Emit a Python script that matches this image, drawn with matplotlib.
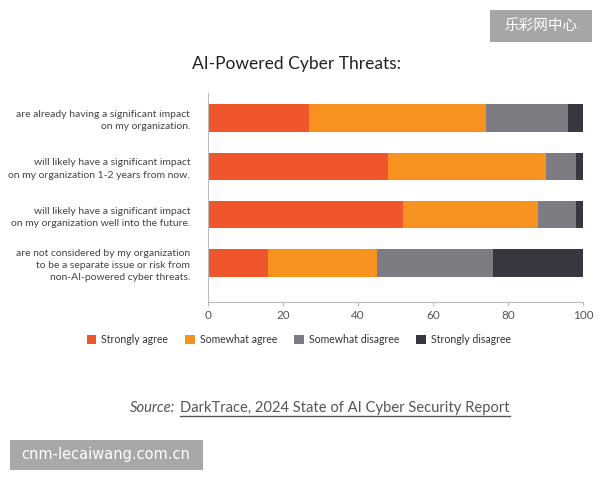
import matplotlib.pyplot as plt
from matplotlib.patches import Rectangle
from matplotlib.lines import Line2D

plt.rcParams['font.family'] = ['Lato', 'DejaVu Sans']

# data (percent of respondents)
statements = [
    'are already having a significant impact\non my organization.',
    'will likely have a significant impact\non my organization 1-2 years from now.',
    'will likely have a significant impact\non my organization well into the future.',
    'are not considered by my organization\nto be a separate issue or risk from\nnon-AI-powered cyber threats.',
]
answers = ['Strongly agree', 'Somewhat agree', 'Somewhat disagree', 'Strongly disagree']
strongly_agree = [27, 48, 52, 16]
somewhat_agree = [47, 42, 36, 29]
somewhat_disagree = [22, 8, 10, 31]
strongly_disagree = [4, 2, 2, 24]
colors = ['#F0562B', '#F7911F', '#7E7C82', '#38363E']

fig = plt.figure(figsize=(6, 4.8), dpi=100)
ax = fig.add_axes([0.347, 0.371, 0.625, 0.435])

series = [strongly_agree, somewhat_agree, somewhat_disagree, strongly_disagree]
ypos = list(range(len(statements)))
left = [0] * len(statements)
for vals, col, name in zip(series, colors, answers):
    ax.barh(ypos, vals, left=left, height=0.57, color=col, label=name)
    left = [a + b for a, b in zip(left, vals)]

ax.set_xlim(0, 100)
ax.set_ylim(3.81, -0.52)
ax.set_xticks([0, 20, 40, 60, 80, 100])
ax.set_yticks(ypos)
ax.set_yticklabels(statements, fontsize=7.5, color='#444444', linespacing=1.45)
ax.tick_params(axis='y', length=0, pad=13)
ax.tick_params(axis='x', length=3, color='#bbbbbb', labelsize=8.5, labelcolor='#555555', pad=3)
for s in ['top', 'right']:
    ax.spines[s].set_visible(False)
for s in ['left', 'bottom']:
    ax.spines[s].set_color('#bbbbbb')
    ax.spines[s].set_linewidth(0.8)

# legend
handles, labels = ax.get_legend_handles_labels()
fig.legend(handles, labels, loc='center', bbox_to_anchor=(0.498, 0.293), ncol=4,
           frameon=False, fontsize=7.6, handlelength=0.9, handleheight=0.9,
           handletextpad=0.5, columnspacing=1.6, labelcolor='#333333')

# title
fig.text(0.495, 0.866, 'AI-Powered Cyber Threats:', ha='center', va='center',
         fontsize=12.5, color='#222222')

# source line with underlined link text
src1 = fig.text(130 / 600, 0.150, 'Source:', ha='left', va='center', fontsize=10.6,
                style='italic', color='#555555')
fig.canvas.draw()
r = fig.canvas.get_renderer()
bb = src1.get_window_extent(r)
x2 = (bb.x1 + 5) / fig.bbox.width
src2 = fig.text(x2, 0.150, 'DarkTrace, 2024 State of AI Cyber Security Report',
                ha='left', va='center', fontsize=10.6, color='#555555')
fig.canvas.draw()
bb2 = src2.get_window_extent(r)
yl = (bb2.y0 - 1) / fig.bbox.height
fig.add_artist(Line2D([bb2.x0 / fig.bbox.width, bb2.x1 / fig.bbox.width], [yl, yl],
                      transform=fig.transFigure, color='#555555', lw=1))

# watermark boxes
fig.add_artist(Rectangle((490 / 600, 1 - 42 / 480), 102 / 600, 32 / 480,
                         transform=fig.transFigure, color='#a6a6a6', lw=0))
fig.text(541 / 600, 1 - 26 / 480, '乐彩网中心', ha='center', va='center', fontsize=10.5,
         color='white', family=['Noto Sans CJK SC', 'DejaVu Sans'])
fig.add_artist(Rectangle((10 / 600, 1 - 470 / 480), 193 / 600, 30 / 480,
                         transform=fig.transFigure, color='#a8a8a8', lw=0))
fig.text(106 / 600, 1 - 455 / 480, 'cnm-lecaiwang.com.cn', ha='center', va='center',
         fontsize=10.5, color='white', family=['DejaVu Sans'])

fig.savefig('out.png', dpi=100)
